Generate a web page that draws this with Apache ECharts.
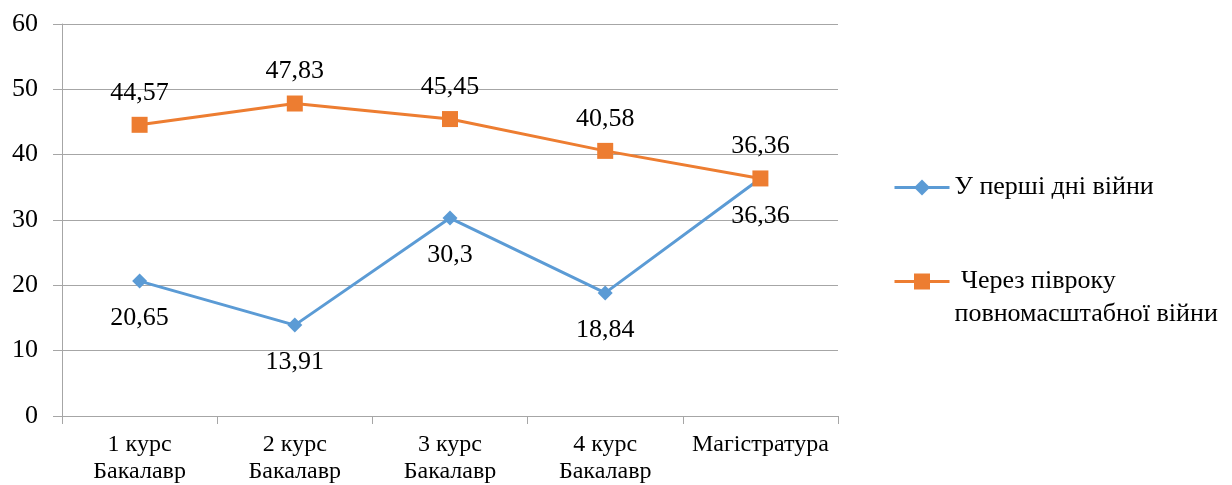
<!DOCTYPE html>
<html>
<head>
<meta charset="utf-8">
<script src="https://cdn.jsdelivr.net/npm/echarts@6/dist/echarts.min.js"></script>
<style>html,body{margin:0;padding:0;background:#fff;}#c{width:1232px;height:485px;}</style>
</head>
<body>
<div id="c"></div>
<script>
const categories = ['1 курс\nБакалавр', '2 курс\nБакалавр', '3 курс\nБакалавр', '4 курс\nБакалавр', 'Магістратура'];
const seriesNames = ['У перші дні війни', ' Через півроку\nповномасштабної війни'];
const firstDays = [20.65, 13.91, 30.3, 18.84, 36.36];
const halfYear = [44.57, 47.83, 45.45, 40.58, 36.36];
const yTicks = { min: 0, max: 60, interval: 10 };

const FONT = "'Liberation Serif', 'Times New Roman', serif";
const fmt = p => String(p.value).replace('.', ',');
const chart = echarts.init(document.getElementById('c'));
chart.setOption({
  animation: false,
  textStyle: { fontFamily: FONT },
  grid: { left: 62, right: 394, top: 24, bottom: 69, containLabel: false },
  legend: {
    orient: 'vertical',
    left: 888,
    top: 166,
    itemWidth: 55,
    itemHeight: 20,
    itemGap: 28,
    lineStyle: { width: 3 },
    formatter: name => (name === seriesNames[1] ? '\n' + name : name),
    textStyle: { fontFamily: FONT, fontSize: 26, color: '#000', lineHeight: 33 },
    data: seriesNames
  },
  xAxis: {
    type: 'category',
    data: categories,
    boundaryGap: true,
    axisLine: { lineStyle: { color: '#a6a6a6', width: 1 } },
    axisTick: { show: true, interval: 0, length: 8, lineStyle: { color: '#a6a6a6' } },
    axisLabel: { interval: 0, fontFamily: FONT, fontSize: 24, color: '#000', lineHeight: 27, margin: 15 }
  },
  yAxis: {
    type: 'value',
    min: yTicks.min, max: yTicks.max, interval: yTicks.interval,
    axisLine: { show: true, lineStyle: { color: '#a6a6a6', width: 1 } },
    axisTick: { show: true, length: 9, lineStyle: { color: '#a6a6a6' } },
    axisLabel: { fontFamily: FONT, fontSize: 26, color: '#000', margin: 24 },
    splitLine: { show: true, lineStyle: { color: '#a6a6a6', width: 1 } }
  },
  series: [
    {
      name: seriesNames[0],
      type: 'line',
      data: firstDays,
      symbol: 'diamond',
      symbolSize: 15,
      itemStyle: { color: '#5b9bd5' },
      lineStyle: { color: '#5b9bd5', width: 3 },
      label: { show: true, position: 'bottom', distance: 17, formatter: fmt, fontFamily: FONT, fontSize: 26, color: '#000' },
      z: 2
    },
    {
      name: seriesNames[1],
      type: 'line',
      data: halfYear,
      symbol: 'rect',
      symbolSize: 16,
      itemStyle: { color: '#ed7d31' },
      lineStyle: { color: '#ed7d31', width: 3 },
      label: { show: true, position: 'top', distance: 11, formatter: fmt, fontFamily: FONT, fontSize: 26, color: '#000' },
      z: 3
    }
  ]
});
</script>
</body>
</html>
